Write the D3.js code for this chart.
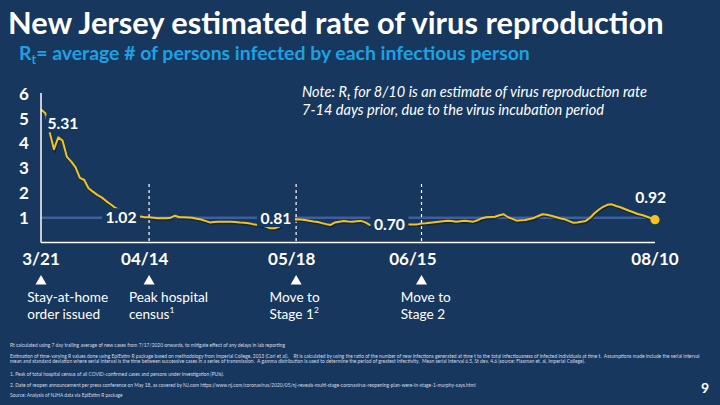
<!DOCTYPE html>
<html><head><meta charset="utf-8">
<script src="https://cdn.jsdelivr.net/npm/d3@7"></script>
<style>
html,body{margin:0;padding:0;background:#17375E;}
svg{display:block;}
text{white-space:pre;}
</style></head><body>
<svg id="c" width="720" height="405"></svg>
<script>
// ---------------- DATA ----------------
const titleText = "New Jersey estimated rate of virus reproduction";
const subtitleMain = "= average # of persons infected by each infectious person";
const noteLine1 = " for 8/10 is an estimate of virus reproduction rate";
const noteLine2 = "7-14 days prior, due to the virus incubation period";
const startDate = "2020-03-21";
const endDate = "2020-08-10";
// daily Rt estimates from 3/21 to 8/10
const rtValues = [
 5.36,5.21,4.45,3.76,4.24,4.10,3.45,3.26,3.03,2.61,
 2.52,2.19,2.05,1.92,1.82,1.68,1.55,1.42,1.33,1.25,
 1.18,1.12,1.08,1.05,1.02,1.02,1.00,0.98,0.98,0.98,
 1.00,1.08,1.02,1.02,1.01,1.00,0.96,0.93,0.87,0.81,
 0.83,0.84,0.84,0.84,0.84,0.83,0.81,0.80,0.78,0.74,
 0.71,0.68,0.64,0.57,0.57,0.63,0.74,0.86,0.93,0.94,
 0.93,0.91,0.88,0.85,0.83,0.78,0.74,0.71,0.81,0.84,
 0.87,0.85,0.84,0.86,0.87,0.81,0.71,0.70,0.70,0.70,
 0.70,0.70,0.71,0.72,0.72,0.73,0.73,0.73,0.77,0.78,
 0.80,0.82,0.84,0.86,0.88,0.87,0.84,0.86,0.88,0.86,
 0.84,0.90,0.98,1.02,1.03,1.04,1.10,1.14,1.02,0.95,
 0.88,0.90,0.91,0.95,0.99,1.07,1.14,1.12,1.08,1.03,
 0.98,0.94,0.87,0.80,0.81,0.84,0.87,1.00,1.18,1.32,
 1.44,1.52,1.54,1.47,1.42,1.35,1.28,1.22,1.15,1.11,
 1.05,0.98,0.92
];
const yTicks = [1,2,3,4,5,6];
const xTickDates = ["2020-03-21","2020-04-14","2020-05-18","2020-06-15","2020-08-10"];
const xTickLabels = ["3/21","04/14","05/18","06/15","08/10"];
const eventDates = ["2020-03-21","2020-04-15","2020-05-19","2020-06-17"];
const eventLine1 = ["Stay-at-home","Peak hospital","Move to","Move to"];
const eventLine2 = ["order issued","census","Stage 1","Stage 2"];
const eventSup = ["","1","2",""];
const calloutDates = ["2020-03-26T02:00Z","2020-04-08T12:00Z","2020-05-14T08:00Z","2020-06-09T14:00Z","2020-08-09T00:00Z"];
const calloutText = ["5.31","1.02","0.81","0.70","0.92"];
const threshold = 1;
const footnotes = [
 "Rt calculated using 7 day trailing average of new cases from 7/17/2020 onwards, to mitigate effect of any delays in lab reporting",
 "Estimation of time-varying R values done using EpiEstim R package based on methodology from Imperial College, 2013 (Cori et al).    Rt is calculated by using the ratio of the number of new infections generated at time t to the total infectiousness of infected individuals at time t.  Assumptions made include the serial interval",
 "mean and standard deviation where serial interval is the time between successive cases in a series of transmission.  A gamma distribution is used to determine the period of greatest infectivity.  Mean serial interval 6.5, St dev. 4.6 (source: Flaxman et. al, Imperial College).",
 "1. Peak of total hospital census of all COVID-confirmed cases and persons under investigation (PUIs).",
 "2. Date of reopen announcement per press conference on May 18, as covered by NJ.com https://www.nj.com/coronavirus/2020/05/nj-reveals-multi-stage-coronavirus-reopening-plan-were-in-stage-1-murphy-says.html",
 "Source: Analysis of NJHA data via EpiEstim R package"
];
const pageNumber = "9";

// ---------------- LAYOUT / STYLE ----------------
const BG = "#17375E", YEL = "#F5C31C", BLUE_LINE = "#3E5E9C", SUB = "#1DA1E2";
const FONT = "Lato, 'Open Sans', sans-serif";
const svg = d3.select("#c");
svg.append("rect").attr("width",720).attr("height",405).attr("fill",BG);

const parse = s => new Date(s.length<=10 ? s+"T00:00:00Z" : s);
const x = d3.scaleUtc().domain([parse(startDate), parse(endDate)]).range([41, 655]);
const y = d3.scaleLinear().domain([0,6]).range([242.5, 93.7]);
const series = rtValues.map((v,i)=>({d: d3.utcDay.offset(parse(startDate), i), v}));

function fit(sel, w){
  const cur = sel.node().getComputedTextLength();
  const fs = parseFloat(sel.attr("font-size"));
  sel.attr("font-size", fs*w/cur);
  return fs*w/cur;
}

// title
const t = svg.append("text").attr("x",8).attr("y",34).attr("fill","#fff")
  .attr("font-family",FONT).attr("font-weight",700).attr("font-size",28).text(titleText);
fit(t, 656);
// subtitle
const st = svg.append("text").attr("x",19).attr("y",60).attr("fill",SUB)
  .attr("font-family",FONT).attr("font-weight",700).attr("font-size",18);
st.append("tspan").text("R");
st.append("tspan").attr("font-size","0.65em").attr("dy",4).text("t");
st.append("tspan").attr("dy",-4).text(subtitleMain);
fit(st, 511);

// note
const n1 = svg.append("text").attr("x",302).attr("y",97).attr("fill","#fff")
  .attr("font-family",FONT).attr("font-style","italic").attr("font-size",14);
n1.append("tspan").text("Note: R");
n1.append("tspan").attr("font-size","0.65em").attr("dy",2.5).text("t");
n1.append("tspan").attr("dy",-2.5).text(noteLine1);
const nfs = fit(n1, 345);
svg.append("text").attr("x",302).attr("y",114.5).attr("fill","#fff")
  .attr("font-family",FONT).attr("font-style","italic").attr("font-size",nfs).text(noteLine2);

// y tick labels
const yl = svg.append("g");
yTicks.forEach(v=>{
  yl.append("text").attr("x",24).attr("y",y(v)).attr("dy","0.36em").attr("text-anchor","middle")
    .attr("fill","#fff").attr("font-family",FONT).attr("font-weight",700).attr("font-size",17).text(v);
});

// threshold line
svg.append("line").attr("x1",x.range()[0]).attr("x2",x.range()[1])
  .attr("y1",y(threshold)).attr("y2",y(threshold)).attr("stroke",BLUE_LINE).attr("stroke-width",2.5);

// event dashed lines
eventDates.slice(1).forEach(d=>{
  svg.append("line").attr("x1",x(parse(d))).attr("x2",x(parse(d))).attr("y1",184).attr("y2",242)
    .attr("stroke","#fff").attr("stroke-width",1.2).attr("stroke-dasharray","3,3");
});

// line with shadow
const line = d3.line().x(d=>x(d.d)).y(d=>y(d.v));
svg.append("path").datum(series).attr("d",line).attr("fill","none").attr("stroke","#0c1f36")
  .attr("stroke-width",2.2).attr("opacity",0.7).attr("transform","translate(0.8,1.4)");
svg.append("path").datum(series).attr("d",line).attr("fill","none").attr("stroke",YEL)
  .attr("stroke-width",2).attr("stroke-linejoin","round");

// end dot
const last = series[series.length-1];
svg.append("circle").attr("cx",x(last.d)).attr("cy",y(last.v)).attr("r",4.6).attr("fill",YEL);

// axes lines
svg.append("line").attr("x1",41).attr("x2",41).attr("y1",93).attr("y2",242.5).attr("stroke","#fff").attr("stroke-width",1.5);
svg.append("line").attr("x1",41).attr("x2",655).attr("y1",242.5).attr("y2",242.5).attr("stroke","#fff").attr("stroke-width",1.5);

// callouts
const calloutDy = [13, 0, -4.4, -0.8, -22.4];
const cg = svg.append("g");
calloutText.forEach((s,i)=>{
  const cx = x(parse(calloutDates[i])), cy = y(parseFloat(s)) + calloutDy[i];
  const g = cg.append("g");
  const r = g.append("rect").attr("fill",BG);
  const tx = g.append("text").attr("x",cx).attr("y",cy).attr("dy","0.36em").attr("text-anchor","middle")
    .attr("fill","#fff").attr("font-family",FONT).attr("font-weight",700).attr("font-size",17).text(s);
  fit(tx, 31);
  const w = tx.node().getComputedTextLength();
  if (i>0 && i<4) r.attr("x",cx-w/2-3.5).attr("y",cy-9).attr("width",w+7).attr("height",18);
  else if (i===0) r.attr("x",cx-w/2-2).attr("y",cy-8.5).attr("width",w+4).attr("height",17);
  else r.remove();
});

// x tick labels
xTickDates.forEach((d,i)=>{
  svg.append("text").attr("x",x(parse(d))).attr("y",264.5).attr("text-anchor","middle")
    .attr("fill","#fff").attr("font-family",FONT).attr("font-weight",700).attr("font-size",17).text(xTickLabels[i]);
});

// event markers & labels
const eventDx = [-13.8, -20.2, -26.5, -20.7];
let efs = 14;
eventDates.forEach((d,i)=>{
  const ex = x(parse(d));
  svg.append("path").attr("d",`M${ex},275 L${ex+5.5},284.5 L${ex-5.5},284.5 Z`).attr("fill","#fff");
  const l1 = svg.append("text").attr("x",ex+eventDx[i]).attr("y",302).attr("fill","#fff")
    .attr("font-family",FONT).attr("font-size",efs).text(eventLine1[i]);
  if (i===0) { efs = fit(l1, 81); }
  const l2 = svg.append("text").attr("x",ex+eventDx[i]).attr("y",318.5).attr("fill","#fff")
    .attr("font-family",FONT).attr("font-size",efs);
  l2.append("tspan").text(eventLine2[i]);
  if (eventSup[i]) l2.append("tspan").attr("font-size","0.62em").attr("dy",-6).text(eventSup[i]);
});

// footnotes
const fnY = [347, 357.5, 363, 375.5, 386.5, 396.5];
const fnW = [276, 691.5, 579, 214, 467.5, 113];
footnotes.forEach((s,i)=>{
  const tx = svg.append("text").attr("x",10).attr("y",fnY[i]).attr("fill","#d5dce6")
    .attr("font-family",FONT).attr("font-size",5.5).text(s);
  fit(tx, fnW[i]);
});
svg.append("text").attr("x",705).attr("y",393).attr("text-anchor","middle").attr("fill","#fff")
  .attr("font-family",FONT).attr("font-weight",700).attr("font-size",14).text(pageNumber);
</script>
</body></html>
